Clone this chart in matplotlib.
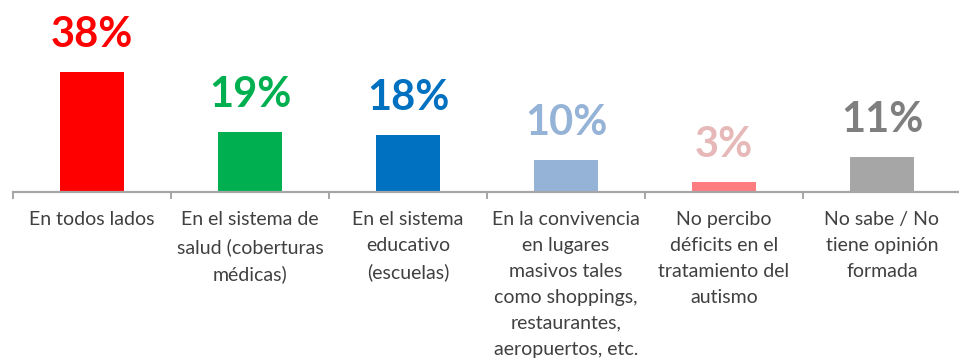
import matplotlib.pyplot as plt
import numpy as np

categorias = [
    "En todos lados",
    "En el sistema de\nsalud (coberturas\nmédicas)",
    "En el sistema\neducativo\n(escuelas)",
    "En la convivencia\nen lugares\nmasivos tales\ncomo shoppings,\nrestaurantes,\naeropuertos, etc.",
    "No percibo\ndéficits en el\ntratamiento del\nautismo",
    "No sabe / No\ntiene opinión\nformada",
]
valores = [38, 19, 18, 10, 3, 11]
colores_barra = ["#FF0000", "#00B050", "#0070C0", "#95B3D7", "#FF7C80", "#A6A6A6"]
colores_texto = ["#FF0000", "#00B050", "#0070C0", "#95B3D7", "#E6B9B8", "#7F7F7F"]

fig = plt.figure(figsize=(9.59, 3.6), dpi=100)
ax = fig.add_axes([13 / 959, 168 / 360, 948 / 959, 192 / 360])

x = np.arange(len(valores))
ax.bar(x, valores, width=64 / 158, color=colores_barra)

for xi, v, c in zip(x, valores, colores_texto):
    ax.annotate(f"{v}%", (xi, v), xytext=(0, 18), textcoords="offset points",
                ha="center", va="baseline", fontsize=30, fontweight="bold",
                color=c, family="Lato")

ax.set_xlim(-0.5, len(valores) - 0.5)
ax.set_ylim(0, 60.6)

for s in ["top", "right", "left"]:
    ax.spines[s].set_visible(False)
ax.spines["bottom"].set_color("#A6A6A6")
ax.spines["bottom"].set_linewidth(1.6)
ax.set_yticks([])

# marcas en los limites de cada categoria, etiquetas en el centro
ax.set_xticks(np.arange(len(valores) + 1) - 0.5)
ax.set_xticklabels([])
ax.tick_params(axis="x", which="major", length=5, width=1.4, color="#A6A6A6")
ax.set_xticks(x, minor=True)
ax.set_xticklabels(categorias, minor=True, fontsize=14, family="Lato",
                   color="#404040", linespacing=1.63, va="top")
ax.tick_params(axis="x", which="minor", length=0, pad=14)

fig.savefig("out.png", dpi=100)
